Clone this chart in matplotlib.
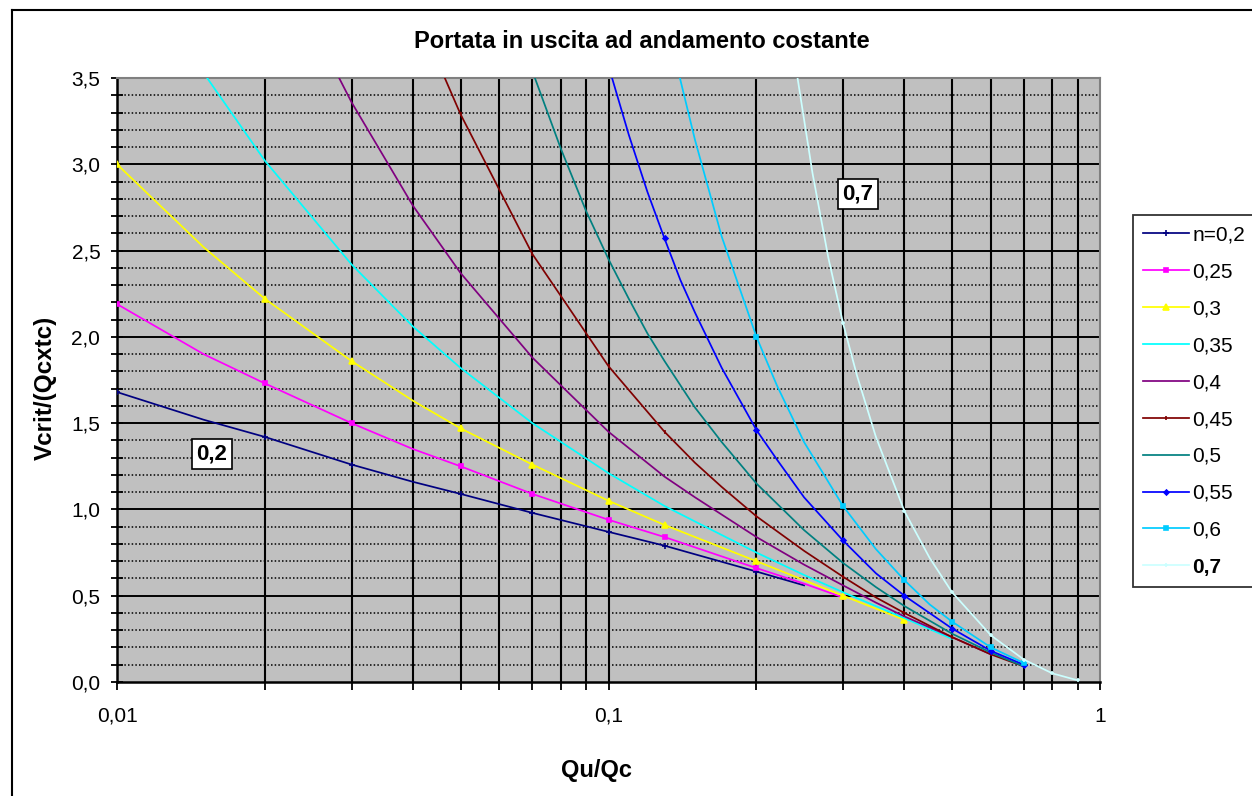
import matplotlib
matplotlib.use("Agg")
import matplotlib.pyplot as plt
import numpy as np
from matplotlib.ticker import FixedLocator, MultipleLocator, FuncFormatter
from matplotlib.lines import Line2D

plt.rcParams['font.family'] = ['Liberation Sans', 'DejaVu Sans']

# Volume critico adimensionale Vcrit/(Qc*tc) in funzione di Qu/Qc, per vari esponenti n
q_n020 = [0.01, 0.015, 0.02, 0.03, 0.04, 0.05, 0.07, 0.1, 0.13, 0.15, 0.2, 0.25]
v_n020 = [1.68, 1.52, 1.42, 1.26, 1.16, 1.09, 0.98, 0.87, 0.79, 0.74, 0.64, 0.56]

q_n025 = [0.01, 0.015, 0.02, 0.03, 0.04, 0.05, 0.07, 0.1, 0.13, 0.15, 0.2, 0.25, 0.3]
v_n025 = [2.19, 1.90, 1.73, 1.50, 1.35, 1.25, 1.09, 0.94, 0.84, 0.78, 0.66, 0.57, 0.49]

q_n030 = [0.01, 0.015, 0.02, 0.03, 0.04, 0.05, 0.07, 0.1, 0.13, 0.15, 0.2, 0.25, 0.3, 0.4]
v_n030 = [3.00, 2.52, 2.22, 1.86, 1.63, 1.47, 1.26, 1.05, 0.91, 0.84, 0.70, 0.59, 0.50, 0.36]

q_n035 = [0.01, 0.015, 0.02, 0.03, 0.04, 0.05, 0.07, 0.1, 0.13, 0.15, 0.2, 0.25, 0.3, 0.4, 0.5]
v_n035 = [4.40, 3.53, 3.02, 2.42, 2.06, 1.82, 1.50, 1.21, 1.02, 0.93, 0.75, 0.62, 0.52, 0.37, 0.25]

q_n040 = [0.02, 0.025, 0.03, 0.04, 0.05, 0.07, 0.1, 0.13, 0.15, 0.2, 0.25, 0.3, 0.35, 0.4, 0.5, 0.6]
v_n040 = [4.41, 3.80, 3.36, 2.76, 2.37, 1.88, 1.45, 1.19, 1.07, 0.84, 0.68, 0.56, 0.46, 0.38, 0.26, 0.16]

q_n045 = [0.04, 0.045, 0.05, 0.07, 0.1, 0.13, 0.15, 0.17, 0.2, 0.25, 0.3, 0.35, 0.4, 0.5, 0.6, 0.7]
v_n045 = [3.96, 3.59, 3.29, 2.48, 1.83, 1.45, 1.27, 1.13, 0.96, 0.76, 0.61, 0.49, 0.40, 0.26, 0.16, 0.09]

q_n050 = [0.05, 0.06, 0.07, 0.08, 0.09, 0.1, 0.11, 0.12, 0.13, 0.15, 0.17, 0.2, 0.25, 0.3, 0.35,
          0.4, 0.5, 0.6, 0.7]
v_n050 = [4.98, 4.14, 3.54, 3.09, 2.73, 2.45, 2.22, 2.02, 1.86, 1.59, 1.39, 1.15, 0.88, 0.69, 0.55,
          0.44, 0.28, 0.17, 0.09]

q_n055 = [0.09, 0.1, 0.11, 0.12, 0.13, 0.14, 0.15, 0.17, 0.2, 0.22, 0.25, 0.3, 0.35, 0.4, 0.5,
          0.6, 0.7]
v_n055 = [4.07, 3.57, 3.17, 2.84, 2.57, 2.33, 2.14, 1.82, 1.46, 1.29, 1.07, 0.82, 0.63, 0.50, 0.31,
          0.18, 0.10]

q_n060 = [0.12, 0.13, 0.14, 0.15, 0.17, 0.2, 0.22, 0.25, 0.3, 0.35, 0.4, 0.45, 0.5, 0.6, 0.7]
v_n060 = [4.42, 3.91, 3.49, 3.14, 2.58, 2.00, 1.72, 1.39, 1.02, 0.77, 0.59, 0.45, 0.35, 0.20, 0.11]

q_n070 = [0.22, 0.24, 0.26, 0.28, 0.3, 0.32, 0.35, 0.4, 0.45, 0.5, 0.6, 0.7, 0.8, 0.9]
v_n070 = [4.40, 3.58, 2.95, 2.46, 2.08, 1.78, 1.42, 0.99, 0.72, 0.52, 0.27, 0.13, 0.05, 0.01]

# punti di calcolo su cui compare il marcatore
q_calcolo = [0.01, 0.02, 0.03, 0.05, 0.07, 0.1, 0.13, 0.2, 0.3, 0.4, 0.5, 0.6, 0.7, 0.8, 0.9]

etichette = ['n=0,2', '0,25', '0,3', '0,35', '0,4', '0,45', '0,5', '0,55', '0,6', '0,7']
serie_q = [q_n020, q_n025, q_n030, q_n035, q_n040, q_n045, q_n050, q_n055, q_n060, q_n070]
serie_v = [v_n020, v_n025, v_n030, v_n035, v_n040, v_n045, v_n050, v_n055, v_n060, v_n070]

colori = ['#000080', '#FF00FF', '#FFFF00', '#00FFFF', '#800080',
          '#800000', '#008080', '#0000FF', '#00CCFF', '#CCFFFF']
marcatori = ['+', 's', '^', None, None, '|', None, 'D', 's', '+']
dim_marc = [4, 2.5, 4, 0, 0, 2.5, 0, 2.5, 3, 3.5]

W, H = 1252, 796
fig = plt.figure(figsize=(W / 100, H / 100), dpi=100)
fig.patch.set_facecolor('white')

ax = fig.add_axes([117 / W, 1 - 682 / H, (1100 - 117) / W, (682 - 78) / H])
ax.set_facecolor('#C0C0C0')
ax.set_xscale('log')
ax.set_xlim(0.01, 1)
ax.set_ylim(0, 3.5)

# griglia: verticali su ogni decade e sottomultiplo, orizzontali principali e secondarie
xgrid = [k * 10.0 ** e for e in (-2, -1) for k in range(1, 10)] + [1.0]
ax.xaxis.set_major_locator(FixedLocator([0.01, 0.1, 1]))
ax.xaxis.set_minor_locator(FixedLocator(xgrid))
ax.xaxis.set_major_formatter(FuncFormatter(lambda v, p: {0.01: '0,01', 0.1: '0,1', 1: '1'}.get(round(v, 2), '')))
ax.xaxis.set_minor_formatter(FuncFormatter(lambda v, p: ''))
ax.yaxis.set_major_locator(MultipleLocator(0.5))
ax.yaxis.set_minor_locator(MultipleLocator(0.1))
ax.yaxis.set_major_formatter(FuncFormatter(lambda v, p: f'{v:.1f}'.replace('.', ',')))

for xv in xgrid[1:-1]:
    ax.axvline(xv, color='black', lw=1.5, zorder=1)
for yv in np.arange(0.1, 3.5, 0.1):
    if abs(yv / 0.5 - round(yv / 0.5)) < 1e-6:
        ax.axhline(yv, color='black', lw=1.4, zorder=1)
    else:
        ax.axhline(yv, color='black', lw=1.1, ls=(0, (1, 1.4)), zorder=1)

for q, v, c, m, ms, lab in zip(serie_q, serie_v, colori, marcatori, dim_marc, etichette):
    idx = [i for i, x in enumerate(q) if any(abs(x - t) < 1e-9 for t in q_calcolo)]
    ax.plot(q, v, color=c, lw=1.25, marker=m, ms=ms, mew=1.2, markevery=idx,
            label=lab, zorder=3, clip_on=True)

ax.tick_params(axis='x', which='both', direction='out', length=6, width=1.3,
               labelsize=15, pad=12, colors='black')
ax.tick_params(axis='y', which='both', direction='inout', length=8, width=1.3,
               labelsize=15, pad=8)
for s in ('left', 'bottom'):
    ax.spines[s].set_color('black')
    ax.spines[s].set_linewidth(1.8)
for s in ('top', 'right'):
    ax.spines[s].set_color('#808080')
    ax.spines[s].set_linewidth(1.5)

fig.text(642 / W, 1 - 42 / H, 'Portata in uscita ad andamento costante', fontsize=17,
         fontweight='bold', ha='center', va='center')
fig.text(597 / W, 1 - 770 / H, 'Qu/Qc', fontsize=17, fontweight='bold',
         ha='center', va='center')
fig.text(45 / W, 1 - 388 / H, 'Vcrit/(Qcxtc)', fontsize=17.5, fontweight='bold',
         ha='center', va='center', rotation=90)

box = dict(boxstyle='square,pad=0.2', fc='white', ec='black', lw=1.2)
ax.text(0.0156, 1.32, '0,2', fontsize=16, fontweight='bold', ha='center',
        va='center', bbox=box, zorder=5)
ax.text(0.322, 2.83, '0,7', fontsize=16, fontweight='bold', ha='center',
        va='center', bbox=box, zorder=5)

leg = fig.legend(loc='upper left', bbox_to_anchor=(1133 / W, 1 - 215 / H),
                 frameon=True, fancybox=False, fontsize=15, handlelength=2.2,
                 handletextpad=0.15, labelspacing=0.86, borderpad=0.5,
                 borderaxespad=0)
leg.get_frame().set_edgecolor('black')
leg.get_frame().set_linewidth(1.3)
leg.get_texts()[-1].set_fontweight('bold')

# cornice dell'area del grafico
fig.add_artist(Line2D([12 / W, 12 / W], [0, 1 - 10 / H], color='black', lw=1.5,
                      transform=fig.transFigure))
fig.add_artist(Line2D([12 / W, 1], [1 - 10 / H, 1 - 10 / H], color='black', lw=1.5,
                      transform=fig.transFigure))

fig.savefig('out.png', dpi=100)
